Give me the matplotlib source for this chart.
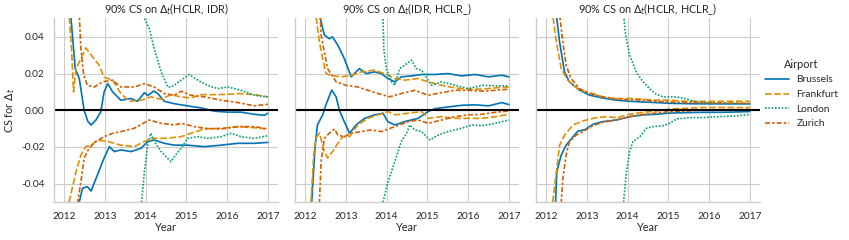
import numpy as np
import seaborn as sns
from matplotlib import pyplot as plt

AIRPORTS = ["Brussels", "Frankfurt", "London", "Zurich"]
TITLES = ["90% CS on $\\Delta_t$(HCLR, IDR)",
          "90% CS on $\\Delta_t$(IDR, HCLR_)",
          "90% CS on $\\Delta_t$(HCLR, HCLR_)"]

# (year, value) points, upper and lower bound per airport

# --- panel 1 : HCLR vs IDR
p1_bru_hi = [(2012.10, 0.08), (2012.16, 0.052), (2012.23, 0.0336), (2012.27, 0.0227), (2012.37, 0.0173),
             (2012.49, 0.0), (2012.58, -0.006), (2012.66, -0.008), (2012.78, -0.0053), (2012.90, -0.0007),
             (2012.98, 0.010), (2013.07, 0.0145), (2013.19, 0.010), (2013.39, 0.0055), (2013.64, 0.0064),
             (2013.80, 0.0049), (2013.97, 0.0096), (2014.05, 0.008), (2014.20, 0.0105), (2014.30, 0.009),
             (2014.46, 0.0049), (2014.70, 0.0036), (2015.03, 0.0024), (2015.36, 0.0013), (2015.69, -0.0005),
             (2016.02, -0.001), (2016.34, -0.001), (2016.67, -0.0022), (2016.92, -0.0027), (2017.0, -0.0016)]
p1_bru_lo = [(2012.30, -0.07), (2012.37, -0.05), (2012.45, -0.0425), (2012.57, -0.0416), (2012.66, -0.044),
             (2012.82, -0.035), (2012.98, -0.026), (2013.11, -0.0198), (2013.23, -0.0225), (2013.39, -0.0216),
             (2013.64, -0.0225), (2013.89, -0.0207), (2014.05, -0.017), (2014.21, -0.0162), (2014.46, -0.018),
             (2014.70, -0.019), (2015.03, -0.019), (2015.44, -0.0198), (2015.85, -0.019), (2016.26, -0.018),
             (2016.67, -0.018), (2017.0, -0.0175)]
p1_fra_hi = [(2012.08, 0.08), (2012.12, 0.052), (2012.18, 0.0336), (2012.23, 0.010), (2012.29, 0.0227),
             (2012.41, 0.028), (2012.53, 0.034), (2012.70, 0.029), (2012.86, 0.0245), (2012.98, 0.018),
             (2013.19, 0.0164), (2013.39, 0.0091), (2013.60, 0.0049), (2013.89, 0.0055), (2014.13, 0.0073),
             (2014.38, 0.006), (2014.62, 0.0085), (2014.87, 0.0073), (2015.11, 0.0067), (2015.36, 0.0085),
             (2015.69, 0.0085), (2016.02, 0.0087), (2016.34, 0.0091), (2016.67, 0.0085), (2017.0, 0.0073)]
p1_fra_lo = [(2012.05, -0.07), (2012.12, -0.05), (2012.29, -0.0335), (2012.41, -0.0244), (2012.53, -0.0198),
             (2012.66, -0.019), (2012.82, -0.0162), (2013.07, -0.017), (2013.39, -0.019), (2013.72, -0.0198),
             (2013.97, -0.017), (2014.13, -0.0153), (2014.46, -0.0153), (2014.87, -0.0144), (2015.11, -0.0125),
             (2015.44, -0.0102), (2015.85, -0.0098), (2016.26, -0.0089), (2016.67, -0.0095), (2017.0, -0.0102)]
p1_lon_hi = [(2013.88, 0.07), (2013.93, 0.052), (2014.09, 0.0445), (2014.21, 0.0336), (2014.38, 0.0209),
             (2014.54, 0.0127), (2014.62, 0.0127), (2014.70, 0.0136), (2014.87, 0.0164), (2015.07, 0.0195),
             (2015.28, 0.0164), (2015.52, 0.0136), (2015.77, 0.0118), (2016.02, 0.0127), (2016.34, 0.0109),
             (2016.67, 0.0082), (2017.0, 0.0073)]
p1_lon_lo = [(2013.86, -0.07), (2013.90, -0.05), (2013.97, -0.0335), (2014.05, -0.019), (2014.13, -0.0125),
             (2014.21, -0.017), (2014.38, -0.0225), (2014.62, -0.028), (2014.70, -0.0253), (2014.87, -0.0207),
             (2015.03, -0.0153), (2015.28, -0.0144), (2015.52, -0.0153), (2015.85, -0.0144), (2016.10, -0.0125),
             (2016.34, -0.0144), (2016.67, -0.0153), (2017.0, -0.0138)]
p1_zur_hi = [(2012.33, 0.08), (2012.37, 0.052), (2012.41, 0.0336), (2012.48, 0.019), (2012.57, 0.0136),
             (2012.74, 0.0127), (2012.94, 0.0155), (2013.19, 0.0164), (2013.39, 0.0127), (2013.72, 0.0127),
             (2013.97, 0.0145), (2014.21, 0.0127), (2014.46, 0.0091), (2014.70, 0.0082), (2014.87, 0.0104),
             (2015.11, 0.0082), (2015.44, 0.0073), (2015.85, 0.0055), (2016.26, 0.0042), (2016.67, 0.0024),
             (2017.0, 0.0033)]
p1_zur_lo = [(2012.28, -0.07), (2012.33, -0.05), (2012.41, -0.039), (2012.49, -0.026), (2012.61, -0.0207),
             (2012.78, -0.017), (2012.98, -0.0144), (2013.19, -0.0125), (2013.39, -0.0116), (2013.72, -0.0098),
             (2014.09, -0.0053), (2014.38, -0.0071), (2014.70, -0.008), (2014.87, -0.0071), (2015.20, -0.0089),
             (2015.44, -0.0098), (2015.85, -0.0102), (2016.26, -0.0089), (2016.67, -0.0089), (2017.0, -0.0102)]

# --- panel 2 : IDR vs HCLR_
p2_bru_hi = [(2012.30, 0.07), (2012.35, 0.052), (2012.47, 0.041), (2012.59, 0.039), (2012.67, 0.040),
             (2012.80, 0.0355), (2012.96, 0.0282), (2013.13, 0.0182), (2013.33, 0.0227), (2013.50, 0.020),
             (2013.70, 0.0209), (2013.87, 0.020), (2014.03, 0.0173), (2014.20, 0.0155), (2014.36, 0.0182),
             (2014.61, 0.0187), (2014.86, 0.0195), (2015.19, 0.0195), (2015.51, 0.020), (2015.84, 0.0187),
             (2016.17, 0.0195), (2016.50, 0.0182), (2016.83, 0.0191), (2017.0, 0.0182)]
p2_bru_lo = [(2012.12, -0.07), (2012.16, -0.05), (2012.24, -0.0207), (2012.30, -0.008), (2012.43, -0.0025),
             (2012.51, 0.003), (2012.65, 0.011), (2012.76, 0.0073), (2012.84, 0.0), (2012.96, -0.0062),
             (2013.09, -0.0125), (2013.25, -0.008), (2013.46, -0.0044), (2013.70, -0.0025), (2013.91, -0.0016),
             (2014.03, -0.0062), (2014.20, -0.008), (2014.44, -0.0062), (2014.77, -0.0044), (2015.02, -0.0007),
             (2015.19, 0.0009), (2015.51, 0.0018), (2015.84, 0.0027), (2016.17, 0.003), (2016.50, 0.0024),
             (2016.83, 0.0042), (2017.0, 0.0031)]
p2_fra_hi = [(2012.22, 0.07), (2012.26, 0.052), (2012.35, 0.037), (2012.43, 0.028), (2012.51, 0.020),
             (2012.63, 0.019), (2012.88, 0.0182), (2013.13, 0.019), (2013.37, 0.0209), (2013.70, 0.0218),
             (2013.95, 0.020), (2014.20, 0.0173), (2014.44, 0.0164), (2014.77, 0.0173), (2015.02, 0.0155),
             (2015.35, 0.0136), (2015.68, 0.0122), (2016.00, 0.0115), (2016.34, 0.0115), (2016.67, 0.0122),
             (2017.0, 0.0127)]
p2_fra_lo = [(2012.10, -0.07), (2012.14, -0.05), (2012.21, -0.0244), (2012.26, -0.0153), (2012.35, -0.0125),
             (2012.47, -0.0225), (2012.55, -0.026), (2012.67, -0.0225), (2012.80, -0.018), (2012.92, -0.0144),
             (2013.09, -0.0144), (2013.29, -0.008), (2013.54, -0.0044), (2013.79, -0.0025), (2014.03, -0.0007),
             (2014.20, -0.0025), (2014.53, -0.0016), (2014.86, -0.0007), (2015.02, -0.0044), (2015.35, -0.0035),
             (2015.68, -0.0044), (2016.00, -0.0044), (2016.34, -0.0044), (2016.67, -0.0035), (2017.0, -0.0022)]
p2_lon_hi = [(2013.90, 0.07), (2013.91, 0.052), (2013.93, 0.0336), (2013.99, 0.0227), (2014.12, 0.0155),
             (2014.20, 0.0136), (2014.32, 0.0227), (2014.44, 0.0245), (2014.61, 0.0273), (2014.73, 0.0227),
             (2014.86, 0.0218), (2015.10, 0.0136), (2015.35, 0.0155), (2015.68, 0.0136), (2016.00, 0.0118),
             (2016.34, 0.0136), (2016.67, 0.0133), (2017.0, 0.0133)]
p2_lon_lo = [(2013.86, -0.07), (2013.91, -0.05), (2014.03, -0.039), (2014.20, -0.028), (2014.36, -0.017),
             (2014.49, -0.0125), (2014.57, -0.008), (2014.69, -0.0107), (2014.86, -0.0116), (2015.06, -0.0162),
             (2015.27, -0.0135), (2015.51, -0.0116), (2015.84, -0.0098), (2016.09, -0.008), (2016.34, -0.0084),
             (2016.67, -0.0071), (2017.0, -0.0053)]
p2_zur_hi = [(2012.34, 0.07), (2012.39, 0.041), (2012.55, 0.0227), (2012.76, 0.0155), (2013.00, 0.0136),
             (2013.29, 0.0127), (2013.54, 0.0109), (2013.79, 0.0091), (2014.07, 0.0073), (2014.36, 0.0091),
             (2014.69, 0.0109), (2015.02, 0.0082), (2015.35, 0.0096), (2015.68, 0.0109), (2016.00, 0.0109),
             (2016.34, 0.0104), (2016.67, 0.0109), (2017.0, 0.0115)]
p2_zur_lo = [(2012.31, -0.07), (2012.35, -0.05), (2012.39, -0.028), (2012.47, -0.0153), (2012.59, -0.0125),
             (2012.72, -0.0102), (2012.80, -0.0135), (2012.96, -0.0144), (2013.13, -0.0125), (2013.37, -0.0116),
             (2013.62, -0.0107), (2013.87, -0.0116), (2014.20, -0.0089), (2014.53, -0.0062), (2014.77, -0.0053),
             (2015.02, -0.0071), (2015.35, -0.0053), (2015.68, -0.0035), (2016.00, -0.0025), (2016.34, -0.0022),
             (2016.67, -0.0011), (2017.0, -0.0004)]

# --- panel 3 : HCLR vs HCLR_
p3_bru_hi = [(2012.20, 0.07), (2012.25, 0.052), (2012.33, 0.037), (2012.45, 0.0209), (2012.57, 0.0155),
             (2012.82, 0.0109), (2013.07, 0.0082), (2013.39, 0.0067), (2013.72, 0.0055), (2014.05, 0.0049),
             (2014.38, 0.0045), (2014.70, 0.0042), (2015.03, 0.0038), (2015.44, 0.0036), (2015.85, 0.0035),
             (2016.34, 0.0035), (2017.0, 0.0035)]
p3_bru_lo = [(2012.19, -0.07), (2012.23, -0.05), (2012.26, -0.0335), (2012.37, -0.0244), (2012.49, -0.019),
             (2012.66, -0.0144), (2012.78, -0.0113), (2012.94, -0.0107), (2013.15, -0.0076), (2013.39, -0.0062),
             (2013.72, -0.0053), (2014.05, -0.0035), (2014.38, -0.0025), (2014.70, -0.0022), (2015.03, -0.0015),
             (2015.44, -0.0013), (2015.85, -0.0011), (2016.34, -0.0011), (2017.0, -0.0007)]
p3_fra_hi = [(2012.11, 0.07), (2012.16, 0.052), (2012.25, 0.037), (2012.37, 0.0227), (2012.53, 0.0164),
             (2012.82, 0.0109), (2013.07, 0.0096), (2013.39, 0.0073), (2013.72, 0.0064), (2014.05, 0.0064),
             (2014.38, 0.006), (2014.70, 0.0055), (2015.03, 0.0055), (2015.44, 0.0049), (2015.85, 0.0049),
             (2016.34, 0.0049), (2017.0, 0.0049)]
p3_fra_lo = [(2012.12, -0.07), (2012.16, -0.05), (2012.25, -0.0335), (2012.33, -0.019), (2012.45, -0.0135),
             (2012.66, -0.008), (2012.90, -0.0058), (2013.23, -0.004), (2013.48, -0.0035), (2013.72, -0.004),
             (2014.05, -0.0022), (2014.38, -0.0011), (2014.70, -0.0004), (2015.03, 0.0007), (2015.44, 0.0011),
             (2015.85, 0.0015), (2016.34, 0.0015), (2017.0, 0.0015)]
p3_lon_hi = [(2013.87, 0.07), (2013.90, 0.052), (2013.95, 0.041), (2014.05, 0.030), (2014.21, 0.0209),
             (2014.38, 0.0155), (2014.54, 0.0118), (2014.70, 0.0087), (2014.87, 0.0073), (2015.20, 0.0073),
             (2015.36, 0.0067), (2015.61, 0.0049), (2015.85, 0.0042), (2016.34, 0.0038), (2017.0, 0.0036)]
p3_lon_lo = [(2013.86, -0.07), (2013.90, -0.05), (2013.97, -0.0335), (2014.05, -0.0225), (2014.13, -0.017),
             (2014.30, -0.0144), (2014.46, -0.0098), (2014.62, -0.0089), (2014.87, -0.0084), (2015.03, -0.0071),
             (2015.20, -0.0047), (2015.52, -0.004), (2015.85, -0.004), (2016.18, -0.0035), (2016.67, -0.0031),
             (2017.0, -0.0022)]
p3_zur_hi = [(2012.29, 0.07), (2012.33, 0.052), (2012.41, 0.037), (2012.49, 0.0245), (2012.61, 0.0173),
             (2012.82, 0.0118), (2013.07, 0.0091), (2013.39, 0.0073), (2013.72, 0.006), (2014.05, 0.0058),
             (2014.38, 0.0055), (2014.70, 0.0049), (2015.03, 0.0045), (2015.44, 0.0042), (2015.85, 0.0041),
             (2016.34, 0.004), (2017.0, 0.0038)]
p3_zur_lo = [(2012.33, -0.07), (2012.37, -0.05), (2012.41, -0.037), (2012.49, -0.0244), (2012.57, -0.0171),
             (2012.74, -0.0135), (2012.90, -0.0116), (2013.15, -0.0084), (2013.39, -0.0065), (2013.72, -0.0053),
             (2014.05, -0.0035), (2014.38, -0.0022), (2014.70, -0.0015), (2015.03, -0.0007), (2015.44, -0.0004),
             (2015.85, 0.0002), (2016.34, 0.0003), (2017.0, 0.0004)]

panels = [
    {"Brussels": (p1_bru_hi, p1_bru_lo), "Frankfurt": (p1_fra_hi, p1_fra_lo),
     "London": (p1_lon_hi, p1_lon_lo), "Zurich": (p1_zur_hi, p1_zur_lo)},
    {"Brussels": (p2_bru_hi, p2_bru_lo), "Frankfurt": (p2_fra_hi, p2_fra_lo),
     "London": (p2_lon_hi, p2_lon_lo), "Zurich": (p2_zur_hi, p2_zur_lo)},
    {"Brussels": (p3_bru_hi, p3_bru_lo), "Frankfurt": (p3_fra_hi, p3_fra_lo),
     "London": (p3_lon_hi, p3_lon_lo), "Zurich": (p3_zur_hi, p3_zur_lo)},
]

sns.set_theme(style="whitegrid", context="paper")
plt.rcParams['font.family'] = ['Lato', 'DejaVu Sans']
plt.rcParams['mathtext.fontset'] = 'dejavusans'

colors = sns.color_palette("colorblind")[:4]
dashes = [(None, None), (4, 1.5), (1, 1), (3, 1.25, 1.5, 1.25)]

TICK_FS = 7.3
LABEL_FS = 7.8

fig = plt.figure(figsize=(8.49, 2.4), dpi=100)
lefts = [54 / 849, 295 / 849, 536 / 849]
axs = []
for i, left in enumerate(lefts):
    ax = fig.add_axes([left, 0.158, 224 / 849, 0.765], sharey=axs[0] if axs else None)
    axs.append(ax)

handles = []
for i, ax in enumerate(axs):
    for j, name in enumerate(AIRPORTS):
        for k, pts in enumerate(panels[i][name]):
            pts = np.array(pts)
            line, = ax.plot(pts[:, 0], pts[:, 1], color=colors[j], lw=1.2)
            if dashes[j][0] is not None:
                line.set_dashes(dashes[j])
            if i == 0 and k == 0:
                handles.append(line)
    ax.axhline(0, color="black", lw=1.5)
    ax.set_xlim(2011.75, 2017.25)
    ax.set_ylim(-0.05, 0.05)
    ax.set_xticks([2012, 2013, 2014, 2015, 2016, 2017])
    ax.set_yticks([-0.04, -0.02, 0.0, 0.02, 0.04])
    ax.yaxis.set_major_formatter(plt.FormatStrFormatter("%.2f"))
    ax.set_title(TITLES[i], fontsize=LABEL_FS, pad=4)
    ax.set_xlabel("Year", fontsize=LABEL_FS, labelpad=1)
    ax.tick_params(labelsize=TICK_FS, pad=2)
    sns.despine(ax=ax)
    if i > 0:
        ax.tick_params(labelleft=False)
axs[0].set_ylabel("CS for $\\Delta_t$", fontsize=LABEL_FS, labelpad=3)

leg = fig.legend(handles, AIRPORTS, title="Airport", loc="center left",
                 bbox_to_anchor=(0.901, 0.61), frameon=False, fontsize=TICK_FS,
                 title_fontsize=LABEL_FS, handlelength=2.4, handletextpad=0.7,
                 borderpad=0, borderaxespad=0, labelspacing=0.55)

fig.savefig("out.png", dpi=100)
